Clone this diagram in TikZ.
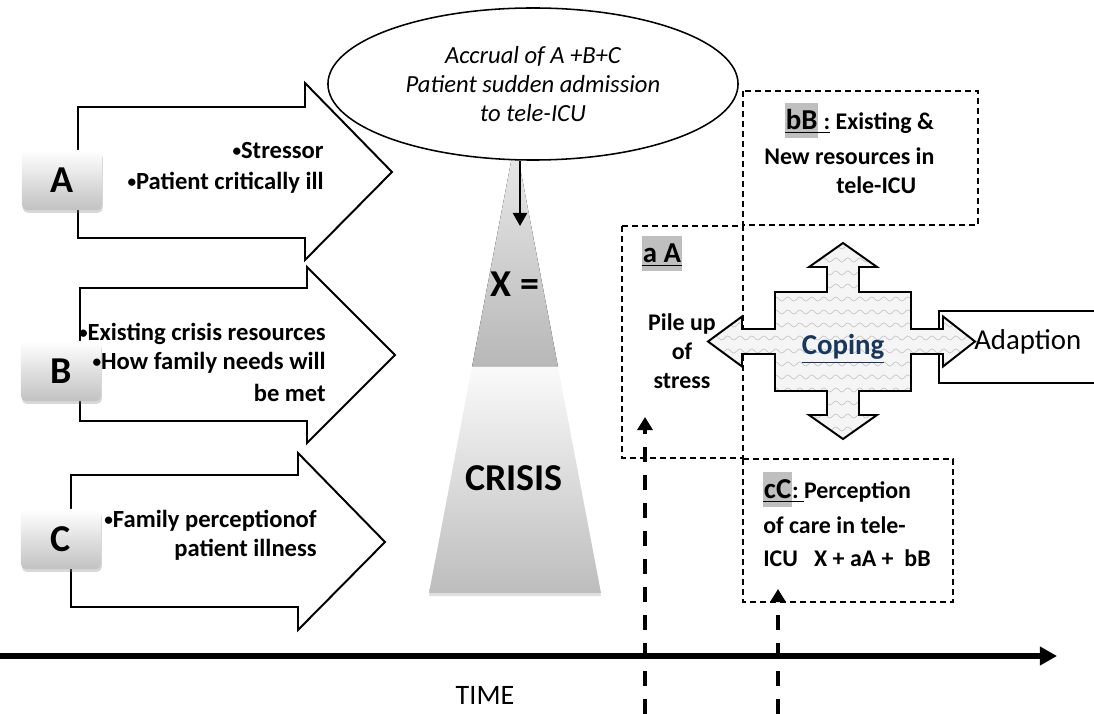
\documentclass[tikz,border=0pt]{standalone}
\usepackage{fontspec}
\usepackage{graphicx}
\setmainfont{Carlito}
\usetikzlibrary{arrows.meta,shapes.geometric,shadows,decorations.pathmorphing}
\definecolor{hlgray}{HTML}{BFBFBF}
\definecolor{copeblue}{HTML}{17375E}
\newcommand{\hlbox}[1]{{\fontsize{20.5}{24}\selectfont\setlength{\fboxsep}{0.5pt}\raisebox{0pt}[\height][0pt]{\colorbox{hlgray}{\rule[-5pt]{0pt}{24pt}#1}}}}
\newcommand{\bul}{\raisebox{0.12em}{\scalebox{0.7}{•}}}
\begin{document}
\begin{tikzpicture}[x=0.025cm,y=-0.025cm,
  bigarrow/.style={draw=black, line width=1.4pt, fill=white, line join=miter},
  letterbox/.style={rounded corners=0.12cm, minimum width=2cm, minimum height=1.5cm,
    top color=white, bottom color=black!24, inner sep=0,
    drop shadow={shadow xshift=0.02cm, shadow yshift=-0.07cm, opacity=0.3},
    font=\bfseries\fontsize{27}{32}\selectfont},
  atext/.style={font=\bfseries\fontsize{17.5}{20}\selectfont, inner sep=0, anchor=base east},
  btext/.style={font=\bfseries\fontsize{17}{20.6}\selectfont, inner sep=0, anchor=base west},
  dbox/.style={draw, line width=1.1pt, dash pattern=on 0.15cm off 0.1cm},
  vdash/.style={line width=2.7pt, dash pattern=on 0.375cm off 0.325cm,
    -{Triangle[length=0.33cm, width=0.38cm]}},
  wave/.style={decorate, decoration={snake, segment length=0.3cm, amplitude=0.05cm},
    draw=black!22, line width=0.5pt}]
\useasboundingbox (0,0) rectangle (1094,714);
\fill[white] (0,0) rectangle (1094,714);

% big arrows
\draw[bigarrow] (78,107) -- (305,107) -- (305,83) -- (392,172) -- (305,260) -- (305,238) -- (78,238) -- cycle;
\draw[bigarrow] (80,288) -- (307,288) -- (307,267) -- (395,355) -- (307,443) -- (307,421) -- (80,421) -- cycle;
\draw[bigarrow] (71,475) -- (298,475) -- (298,453) -- (385,542) -- (298,630) -- (298,607) -- (71,607) -- cycle;

% letter boxes
\node[letterbox] (boxA) at (62,180) {A};
\node[letterbox] (boxB) at (61,371) {B};
\node[letterbox] (boxC) at (61,539) {C};

% arrow texts
\node[atext] (a1) at (324,159) {\bul Stressor};
\node[atext] (a2) at (324,190) {\bul Patient critically ill};
\node[atext] (b1) at (326,341) {\bul Existing crisis resources};
\node[atext] (b2) at (326,370) {\bul How family needs will};
\node[atext] (b3) at (326,402) {be met};
\node[atext] (c1) at (317,528) {\bul Family perceptionof};
\node[atext] (c2) at (317,557) {patient illness};

% crisis triangle
\fill[top color=black!8, bottom color=black!28] (515,141) -- (558,367) -- (472,367) -- cycle;
\path[top color=black!2, bottom color=black!26,
  drop shadow={shadow xshift=0cm, shadow yshift=-0.08cm, opacity=0.25}]
  (472,367) -- (558,367) -- (601,593) -- (429,593) -- cycle;

% ellipse
\node[draw, ellipse, line width=1.1pt, fill=white, minimum width=10.25cm, minimum height=3.8cm,
  inner sep=0, align=center, font=\itshape\fontsize{17.5}{20.5}\selectfont] (ell) at (533,84)
  {Accrual of A +B+C\\Patient sudden admission\\to tele-ICU};
\coordinate (xin) at (520,226);
\draw[line width=1.4pt, -{Triangle[length=0.33cm, width=0.36cm]}] (ell.south -| xin) -- (xin);

\node[font=\bfseries\fontsize{27}{32}\selectfont, inner sep=0] (xeq) at (515,284) {X =};
\node[font=\bfseries\fontsize{27}{32}\selectfont, inner sep=0] (crisis) at (514,478) {CRISIS};

% dashed boxes
\draw[dbox] (743,91) rectangle (978,225);
\draw[dbox] (622,226) rectangle (743,458);
\draw[dbox] (743,459) rectangle (953,602);

\node[btext] (bb1) at (785,130) {\underline{\hlbox{bB}~:}~Existing \&};
\node[btext] (bb2) at (764,165) {New resources in};
\node[btext] (bb3) at (836,194) {tele-ICU};

\node[btext] (aa) at (642,263) {\underline{\hlbox{a A}}};
\node[font=\bfseries\fontsize{17}{20.6}\selectfont, inner sep=0, align=center] (pile) at (682,351) {Pile up\\of\\stress};

\node[btext] (cc1) at (763,499) {\underline{\hlbox{cC}:~}Perception};
\node[btext] (cc2) at (763,534) {of care in tele-};
\node[btext] (cc3) at (763,567) {ICU\ \ \ X + aA +\ \ bB};

% adaption box
\draw[line width=1.1pt, fill=white] (1094,311) -- (939,311) -- (939,383) -- (1094,383);

% coping cross
\def\crosspath{(843,243) -- (877,267) -- (859,267) -- (859,292) -- (911,292) -- (911,329) -- (943,329) -- (943,316.5) -- (975,341.5) -- (943,366.5) -- (943,354) -- (911,354) -- (911,391) -- (859,391) -- (859,415) -- (877,415) -- (843,439) -- (809,415) -- (827,415) -- (827,391) -- (775,391) -- (775,354) -- (742,354) -- (742,366.5) -- (708,341.5) -- (742,316.5) -- (742,329) -- (775,329) -- (775,292) -- (827,292) -- (827,267) -- (809,267) -- cycle}
\fill[black!4] \crosspath;
\begin{scope}
  \clip \crosspath;
  \foreach \yy in {247,260,...,440} \draw[wave] (700,\yy) -- (990,\yy);
\end{scope}
\draw[line width=1.4pt, line join=miter] \crosspath;

\node[font=\bfseries\fontsize{20.5}{24}\selectfont, text=copeblue, inner sep=0, anchor=base] (coping) at (843,355) {\underline{Coping}};
\node[font=\fontsize{20.5}{24}\selectfont, inner sep=0, anchor=base west] (adapt) at (974,350) {Adaption};

% timeline
\coordinate (t0) at (0,656);
\coordinate (t1) at (1057,656);
\draw[line width=3.6pt, -{Triangle[length=0.43cm, width=0.45cm]}] (t0) -- (t1);
\node[font=\fontsize{20}{24}\selectfont, inner sep=0, anchor=base] (time) at (485,704) {TIME};

% vertical dashed arrows
\coordinate (v1s) at (645,714); \coordinate (v1e) at (645,417);
\coordinate (v2s) at (778,714); \coordinate (v2e) at (778,589);
\draw[vdash] (v1s) -- (v1e);
\draw[vdash] (v2s) -- (v2e);
\end{tikzpicture}
\end{document}
